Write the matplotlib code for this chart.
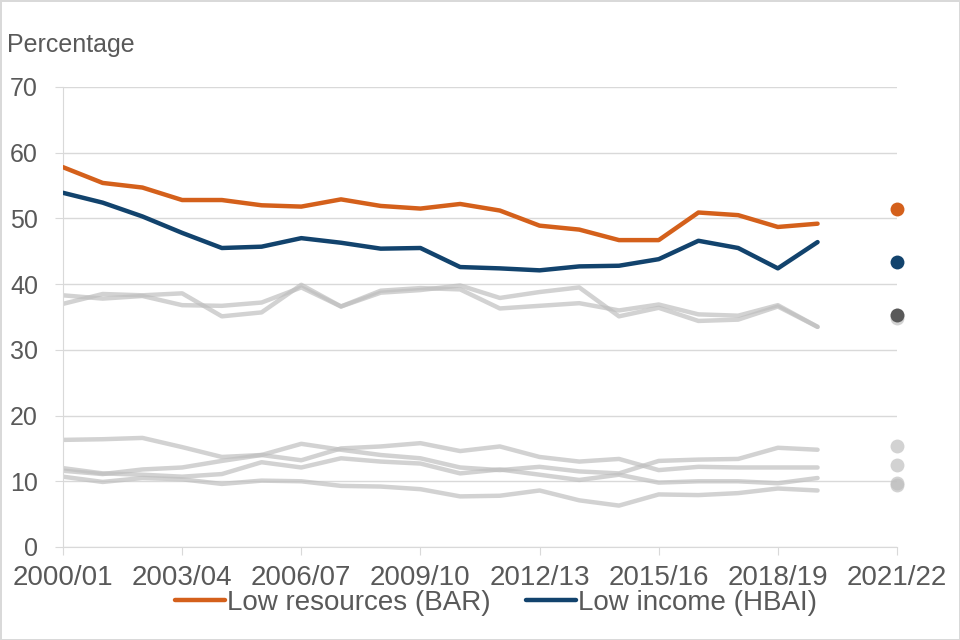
import matplotlib
matplotlib.use('Agg')
import matplotlib.pyplot as plt
from matplotlib import font_manager

# Years 2000/01 .. 2021/22
years = [f'{y}/{str(y + 1)[2:]}' for y in range(2000, 2022)]
tick_years = ['2000/01', '2003/04', '2006/07', '2009/10', '2012/13', '2015/16', '2018/19', '2021/22']

# Series up to 2019/20 (no 2020/21), plus one point for 2021/22
low_resources = [57.8, 55.4, 54.7, 52.8, 52.8, 52.0, 51.8, 52.9, 51.9, 51.5,
                 52.2, 51.2, 48.9, 48.3, 46.7, 46.7, 50.9, 50.5, 48.7, 49.2]
low_resources_2122 = 51.4
low_income = [53.9, 52.4, 50.3, 47.8, 45.5, 45.7, 47.0, 46.3, 45.4, 45.5,
              42.6, 42.4, 42.1, 42.7, 42.8, 43.8, 46.6, 45.5, 42.4, 46.4]
low_income_2122 = 43.4

# Other (grey) series
grey_a = [38.3, 37.8, 38.2, 36.8, 36.7, 37.2, 39.5, 36.6, 38.7, 39.1,
          39.8, 37.9, 38.8, 39.5, 35.1, 36.4, 34.4, 34.6, 36.6, 33.5]
grey_b = [37.0, 38.5, 38.3, 38.6, 35.1, 35.7, 39.9, 36.6, 39.0, 39.4,
          39.2, 36.3, 36.7, 37.1, 36.0, 36.9, 35.4, 35.2, 36.8, 33.5]
grey_c = [16.3, 16.4, 16.6, 15.2, 13.7, 14.0, 13.2, 15.0, 15.3, 15.8,
          14.6, 15.3, 13.7, 13.0, 13.4, 11.7, 12.2, 12.1, 12.1, 12.1]
grey_d = [11.6, 11.1, 11.8, 12.1, 13.1, 14.0, 15.7, 14.8, 14.0, 13.5,
          12.1, 11.7, 12.2, 11.5, 11.2, 13.1, 13.3, 13.4, 15.1, 14.8]
grey_e = [12.0, 11.2, 11.0, 10.7, 11.1, 12.9, 12.1, 13.5, 13.0, 12.7,
          11.2, 11.8, 11.0, 10.2, 11.0, 9.8, 10.0, 10.0, 9.7, 10.5]
grey_f = [10.7, 9.9, 10.5, 10.3, 9.6, 10.1, 10.0, 9.3, 9.2, 8.8,
          7.7, 7.8, 8.6, 7.1, 6.3, 8.0, 7.9, 8.2, 8.9, 8.6]
grey_series = [grey_a, grey_b, grey_c, grey_d, grey_e, grey_f]
grey_2122 = [34.9, 35.3, 12.5, 15.4, 9.8, 9.4]

ORANGE = '#D4601B'
BLUE = '#12436D'
GREY = '#BFBFBF'
TEXT = '#595959'

names = {f.name for f in font_manager.fontManager.ttflist}
narrow = ['Liberation Sans Narrow', 'Liberation Sans'] if 'Liberation Sans Narrow' in names else ['Liberation Sans']
narrow_size = 23 if 'Liberation Sans Narrow' in names else 20

plt.rcParams['font.family'] = ['Liberation Sans', 'DejaVu Sans']

fig = plt.figure(figsize=(9.6, 6.4), dpi=100)
fig.patch.set_edgecolor('#D9D9D9')
fig.patch.set_linewidth(2)
ax = fig.add_axes([63 / 960, 93 / 640, 834 / 960, 460 / 640])

idx = list(range(len(years)))
line_x = idx[:20]
last_x = idx[21]

for s, dot in zip(grey_series, grey_2122):
    ax.plot(line_x, s, color=GREY, alpha=0.7, linewidth=3.2, solid_capstyle='round', zorder=2)
    ax.plot([last_x], [dot], 'o', color=GREY, alpha=0.7, markersize=10, markeredgewidth=0,
            clip_on=False, zorder=2)
# highlighted grey point
ax.plot([last_x], [grey_2122[1]], 'o', color='#595959', markersize=10, markeredgewidth=0,
        clip_on=False, zorder=3)

ax.plot(line_x, low_resources, color=ORANGE, linewidth=3.2, solid_capstyle='round',
        label='Low resources (BAR)', zorder=4)
ax.plot([last_x], [low_resources_2122], 'o', color=ORANGE, markersize=10, markeredgewidth=0,
        clip_on=False, zorder=4)
ax.plot(line_x, low_income, color=BLUE, linewidth=3.2, solid_capstyle='round',
        label='Low income (HBAI)', zorder=4)
ax.plot([last_x], [low_income_2122], 'o', color=BLUE, markersize=10, markeredgewidth=0,
        clip_on=False, zorder=4)

ax.set_xlim(0, 21)
ax.set_ylim(0, 70)
ax.set_yticks(range(0, 71, 10))
ax.set_xticks([years.index(t) for t in tick_years])
ax.set_xticklabels(tick_years, family=narrow, fontsize=narrow_size, color=TEXT)
for lab in ax.get_yticklabels():
    lab.set_fontsize(18)
    lab.set_color(TEXT)

ax.grid(axis='y', color='#D9D9D9', linewidth=1)
ax.set_axisbelow(True)
for side in ['top', 'right']:
    ax.spines[side].set_visible(False)
ax.spines['left'].set_color('#D9D9D9')
ax.spines['bottom'].set_color('#D9D9D9')
ax.tick_params(axis='y', length=6, color='#D9D9D9', pad=12)
ax.tick_params(axis='x', length=6, color='#D9D9D9', pad=7)

fig.text(7 / 960, 1 - 45 / 640, 'Percentage', fontsize=18, color=TEXT, va='center', ha='left')

leg = fig.legend(loc='center', bbox_to_anchor=(496 / 960, 1 - 603 / 640), ncol=2, frameon=False,
                 handlelength=1.8, handletextpad=0.05, columnspacing=1.3,
                 prop={'family': narrow, 'size': narrow_size})
for t in leg.get_texts():
    t.set_color(TEXT)

fig.savefig('out.png', dpi=100)
